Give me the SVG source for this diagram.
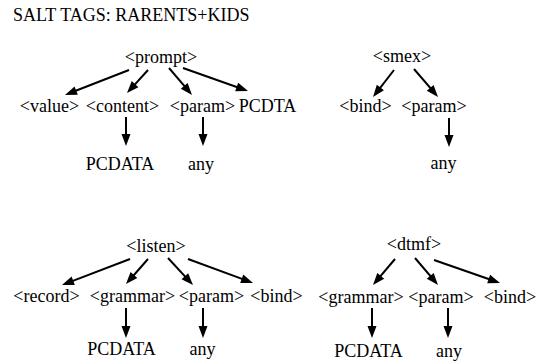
<svg xmlns="http://www.w3.org/2000/svg" width="537" height="362" viewBox="0 0 537 362">
  <style>
    .t { font-family: "Liberation Serif", "Times New Roman", "DejaVu Serif", serif; font-size: 18px; text-anchor: middle; fill: #000; }
    .title { font-family: "Liberation Serif", "Times New Roman", "DejaVu Serif", serif; font-size: 18px; fill: #000; }
    .edge { stroke: #000; stroke-width: 2; fill: none; }
    .head { fill: #000; }
  </style>
  <defs>
    <!-- arrowhead with its tip at the origin, pointing along +x -->
    <path id="ah" d="M0,0 L-12,-4.5 L-12,4.5 Z"/>
  </defs>
  <rect width="537" height="362" fill="#fff"/>

  <text class="title" x="13" y="21">SALT TAGS: RARENTS+KIDS</text>

  <!-- prompt tree -->
  <g id="prompt"><text class="t" x="161" y="63">&lt;prompt&gt;</text></g>
  <g id="prompt-value"><text class="t" x="49.5" y="112">&lt;value&gt;</text></g>
  <g id="prompt-content"><text class="t" x="122.5" y="112">&lt;content&gt;</text></g>
  <g id="prompt-param"><text class="t" x="202.5" y="112">&lt;param&gt;</text></g>
  <g id="prompt-pcdta"><text class="t" x="267.5" y="112">PCDTA</text></g>
  <g id="prompt-content-pcdata"><text class="t" x="120" y="170">PCDATA</text></g>
  <g id="prompt-param-any"><text class="t" x="201" y="170">any</text></g>

  <!-- smex tree -->
  <g id="smex"><text class="t" x="402" y="62">&lt;smex&gt;</text></g>
  <g id="smex-bind"><text class="t" x="365.5" y="112">&lt;bind&gt;</text></g>
  <g id="smex-param"><text class="t" x="434" y="112">&lt;param&gt;</text></g>
  <g id="smex-param-any"><text class="t" x="443.5" y="169">any</text></g>

  <!-- listen tree -->
  <g id="listen"><text class="t" x="156" y="252">&lt;listen&gt;</text></g>
  <g id="listen-record"><text class="t" x="46.5" y="302">&lt;record&gt;</text></g>
  <g id="listen-grammar"><text class="t" x="132.5" y="302">&lt;grammar&gt;</text></g>
  <g id="listen-param"><text class="t" x="211.5" y="302">&lt;param&gt;</text></g>
  <g id="listen-bind"><text class="t" x="276.5" y="302">&lt;bind&gt;</text></g>
  <g id="listen-grammar-pcdata"><text class="t" x="121.5" y="355">PCDATA</text></g>
  <g id="listen-param-any"><text class="t" x="202.5" y="355">any</text></g>

  <!-- dtmf tree -->
  <g id="dtmf"><text class="t" x="414" y="250">&lt;dtmf&gt;</text></g>
  <g id="dtmf-grammar"><text class="t" x="361" y="303">&lt;grammar&gt;</text></g>
  <g id="dtmf-param"><text class="t" x="441" y="303">&lt;param&gt;</text></g>
  <g id="dtmf-bind"><text class="t" x="510" y="303">&lt;bind&gt;</text></g>
  <g id="dtmf-grammar-pcdata"><text class="t" x="368.5" y="357">PCDATA</text></g>
  <g id="dtmf-param-any"><text class="t" x="449" y="357">any</text></g>

  <g id="connectors">
    <!-- prompt -->
    <line class="edge" x1="129" y1="70" x2="70.6" y2="92.8"/>
    <use class="head" href="#ah" transform="translate(65,95) rotate(158.66)"/>
    <line class="edge" x1="148" y1="70" x2="131.1" y2="88.6"/>
    <use class="head" href="#ah" transform="translate(127,93) rotate(132.4)"/>
    <line class="edge" x1="169" y1="68" x2="188.1" y2="90.4"/>
    <use class="head" href="#ah" transform="translate(192,95) rotate(49.6)"/>
    <line class="edge" x1="183" y1="68" x2="242.3" y2="89"/>
    <use class="head" href="#ah" transform="translate(248,91) rotate(19.5)"/>
    <line class="edge" x1="126" y1="117" x2="126" y2="140"/>
    <use class="head" href="#ah" transform="translate(126,146) rotate(90)"/>
    <line class="edge" x1="203" y1="117" x2="203" y2="140"/>
    <use class="head" href="#ah" transform="translate(203,146) rotate(90)"/>
    <!-- smex -->
    <line class="edge" x1="394" y1="70" x2="376.7" y2="92.3"/>
    <use class="head" href="#ah" transform="translate(373,97) rotate(127.9)"/>
    <line class="edge" x1="414" y1="69" x2="434.1" y2="92.4"/>
    <use class="head" href="#ah" transform="translate(438,97) rotate(49.4)"/>
    <line class="edge" x1="449" y1="118" x2="449" y2="141"/>
    <use class="head" href="#ah" transform="translate(449,147) rotate(90)"/>
    <!-- listen -->
    <line class="edge" x1="130" y1="259" x2="67.6" y2="282.9"/>
    <use class="head" href="#ah" transform="translate(62,285) rotate(159.1)"/>
    <line class="edge" x1="148" y1="259" x2="130" y2="279.5"/>
    <use class="head" href="#ah" transform="translate(126,284) rotate(131.35)"/>
    <line class="edge" x1="168" y1="258" x2="188.9" y2="280.6"/>
    <use class="head" href="#ah" transform="translate(193,285) rotate(47.2)"/>
    <line class="edge" x1="188" y1="259" x2="247.4" y2="280.9"/>
    <use class="head" href="#ah" transform="translate(253,283) rotate(20.3)"/>
    <line class="edge" x1="126" y1="308" x2="126" y2="332"/>
    <use class="head" href="#ah" transform="translate(126,338) rotate(90)"/>
    <line class="edge" x1="203" y1="308" x2="203" y2="332"/>
    <use class="head" href="#ah" transform="translate(203,338) rotate(90)"/>
    <!-- dtmf -->
    <line class="edge" x1="395" y1="259" x2="376.9" y2="280.4"/>
    <use class="head" href="#ah" transform="translate(373,285) rotate(130.2)"/>
    <line class="edge" x1="415" y1="258" x2="434.1" y2="280.4"/>
    <use class="head" href="#ah" transform="translate(438,285) rotate(49.6)"/>
    <line class="edge" x1="434" y1="260" x2="494.3" y2="281"/>
    <use class="head" href="#ah" transform="translate(500,283) rotate(19.2)"/>
    <line class="edge" x1="372" y1="308" x2="372" y2="332"/>
    <use class="head" href="#ah" transform="translate(372,338) rotate(90)"/>
    <line class="edge" x1="448" y1="308" x2="448" y2="332"/>
    <use class="head" href="#ah" transform="translate(448,338) rotate(90)"/>
  </g>
</svg>
